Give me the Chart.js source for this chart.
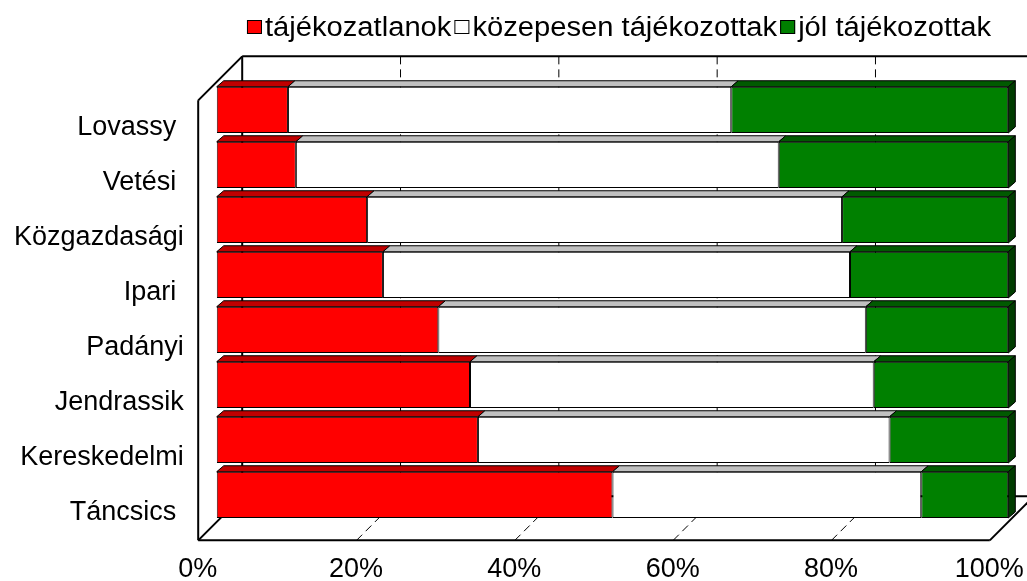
<!DOCTYPE html>
<html>
<head>
<meta charset="utf-8">
<script src="https://cdn.jsdelivr.net/npm/chart.js@4.4.0/dist/chart.umd.min.js"></script>
<style>
  html, body { margin: 0; padding: 0; background: #fff; }
  #wrap { width: 1027px; height: 581px; position: relative; }
</style>
</head>
<body>
<div id="wrap"><canvas id="schoolChart"></canvas></div>
<script>
// data (percent of students per school)
var schools = ['Lovassy ', 'Vetési ', 'Közgazdasági', 'Ipari ', 'Padányi', 'Jendrassik', 'Kereskedelmi', 'Táncsics '];
var tajekozatlanok = [9, 10, 19, 21, 28, 32, 33, 50];
var kozepesen = [56, 61, 60, 59, 54, 51, 52, 39];
var jolTajekozottak = [35, 29, 21, 20, 18, 17, 15, 11];
var percentTicks = ['0%', '20%', '40%', '60%', '80%', '100%'];

var FONT = '"Liberation Sans", Arial, sans-serif';
Chart.defaults.font.family = FONT;
Chart.defaults.color = '#000';

// shading for the fake 3D faces
var topFaces = ['#c00000', '#c0c0c0', '#005a00'];
var endFace = '#003c00';

function seg(ctx, x1, y1, x2, y2) {
    ctx.beginPath();
    ctx.moveTo(x1, y1);
    ctx.lineTo(x2, y2);
    ctx.stroke();
}

// walls, floor and gridlines behind the bars
var frame3d = {
    id: 'frame3d',
    beforeDatasetsDraw: function (chart) {
        var ctx = chart.ctx, a = chart.chartArea, xs = chart.scales.x;
        var fx = -18.5, fy = 18, bx = 25.5, by = -26;
        var L = a.left, R = a.right, T = a.top, B = a.bottom;
        ctx.save();
        ctx.strokeStyle = '#000';
        ctx.lineWidth = 1;
        ctx.setLineDash([8, 5]);
        [20, 40, 60, 80].forEach(function (v) {
            var p = xs.getPixelForValue(v);
            seg(ctx, p + bx, T + by, p + bx, B + by);
            seg(ctx, p + fx, B + fy, p + bx, B + by);
        });
        ctx.setLineDash([]);
        ctx.lineWidth = 2;
        seg(ctx, L + fx, T + fy, L + fx, B + fy);
        seg(ctx, L + fx, T + fy, L + bx, T + by);
        seg(ctx, L + bx, T + by, R + bx, T + by);
        seg(ctx, L + bx, T + by, L + bx, B + by);
        seg(ctx, R + bx, T + by, R + bx, B + by);
        seg(ctx, L + fx, B + fy, R + fx, B + fy);
        seg(ctx, L + fx, B + fy, L + bx, B + by);
        seg(ctx, R + fx, B + fy, R + bx, B + by);
        seg(ctx, L + bx, B + by, R + bx, B + by);
        ctx.restore();
    },
    afterDatasetsDraw: function (chart) {
        var ctx = chart.ctx, d = 7, n = chart.data.datasets.length;
        ctx.save();
        ctx.strokeStyle = '#000';
        ctx.lineWidth = 1;
        for (var i = 0; i < n; i++) {
            chart.getDatasetMeta(i).data.forEach(function (bar) {
                var p = bar.getProps(['x', 'y', 'base', 'height'], true);
                var top = p.y - p.height / 2, bottom = p.y + p.height / 2;
                ctx.fillStyle = topFaces[i];
                ctx.beginPath();
                ctx.moveTo(p.base, top);
                ctx.lineTo(p.base + d, top - d + 1);
                ctx.lineTo(p.x + d, top - d + 1);
                ctx.lineTo(p.x, top);
                ctx.closePath();
                ctx.fill();
                ctx.stroke();
                if (i === n - 1) {
                    ctx.fillStyle = endFace;
                    ctx.beginPath();
                    ctx.moveTo(p.x, top);
                    ctx.lineTo(p.x + d, top - d + 1);
                    ctx.lineTo(p.x + d, bottom - d + 1);
                    ctx.lineTo(p.x, bottom);
                    ctx.closePath();
                    ctx.fill();
                    ctx.stroke();
                }
            });
        }
        ctx.restore();
    }
};

// one-row legend with tight spacing like the original
var legendRow = {
    id: 'legendRow',
    afterDraw: function (chart) {
        var ctx = chart.ctx, sx = 1.08, boxW = 15, boxH = 14, gap = 3;
        ctx.save();
        ctx.font = '27px ' + FONT;
        var items = chart.data.datasets.map(function (ds) {
            return { text: ds.label, color: ds.backgroundColor, w: ctx.measureText(ds.label).width * sx };
        });
        var total = 0;
        items.forEach(function (it) { total += boxW + gap + it.w; });
        total += gap * (items.length - 1);
        var x = 619 - total / 2;
        items.forEach(function (it) {
            ctx.fillStyle = it.color;
            ctx.fillRect(x, 20, boxW, boxH);
            ctx.strokeStyle = '#000';
            ctx.lineWidth = 1;
            ctx.strokeRect(x + 0.5, 20.5, boxW - 1, boxH - 1);
            x += boxW + gap;
            ctx.save();
            ctx.translate(x, 36);
            ctx.scale(sx, 1);
            ctx.fillStyle = '#000';
            ctx.textBaseline = 'alphabetic';
            ctx.fillText(it.text, 0, 0);
            ctx.restore();
            x += it.w + gap;
        });
        ctx.restore();
    }
};

var ctx1 = document.getElementById('schoolChart').getContext('2d');
var schoolChart = new Chart(ctx1, {
    type: 'bar',
    data: {
        labels: schools,
        datasets: [
            { label: 'tájékozatlanok', data: tajekozatlanok, backgroundColor: '#ff0000' },
            { label: 'közepesen tájékozottak', data: kozepesen, backgroundColor: '#ffffff' },
            { label: 'jól tájékozottak', data: jolTajekozottak, backgroundColor: '#008000' }
        ]
    },
    options: {
        indexAxis: 'y',
        responsive: true,
        maintainAspectRatio: false,
        animation: false,
        layout: { padding: { top: 82.35, right: 18.7, bottom: 0, left: 0 } },
        datasets: {
            bar: {
                borderColor: '#000',
                borderWidth: 1,
                borderSkipped: false,
                categoryPercentage: 1,
                barPercentage: 0.84
            }
        },
        scales: {
            x: {
                stacked: true,
                min: 0,
                max: 100,
                grid: { display: false },
                border: { display: false },
                ticks: {
                    stepSize: 20,
                    padding: 23,
                    labelOffset: -19,
                    maxRotation: 0,
                    font: { size: 27 },
                    callback: function (v, i) { return percentTicks[i]; }
                },
                afterFit: function (scale) {
                    scale.height = 58.65;
                    scale.paddingLeft = 0;
                    scale.paddingRight = 0;
                }
            },
            y: {
                stacked: true,
                grid: { display: false },
                border: { display: false },
                ticks: {
                    padding: 25,
                    labelOffset: 18,
                    font: { size: 27 }
                },
                afterFit: function (scale) {
                    scale.width = 216.7;
                    scale.paddingTop = 0;
                    scale.paddingBottom = 0;
                }
            }
        },
        plugins: {
            legend: { display: false },
            tooltip: { enabled: false }
        }
    },
    plugins: [frame3d, legendRow]
});
</script>
</body>
</html>
